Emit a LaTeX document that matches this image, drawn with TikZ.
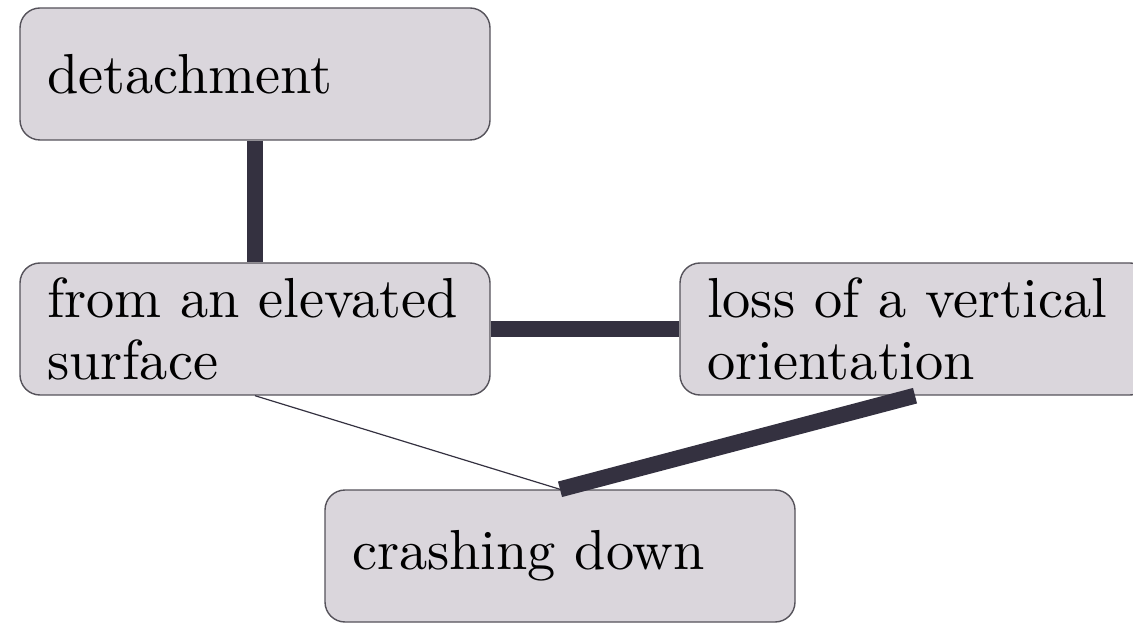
\documentclass[tikz,border=0pt]{standalone}
\usepackage{fontspec}
\setmainfont{lmroman10-regular}[Extension=.otf]
\definecolor{boxfill}{RGB}{218,214,220}
\definecolor{boxline}{RGB}{85,82,90}
\definecolor{conn}{RGB}{52,49,64}
\tikzset{
  box/.style={draw=boxline, line width=0.7pt, fill=boxfill, rounded corners=10pt,
    minimum width=235pt, minimum height=66pt, inner xsep=13.5pt, inner ysep=0pt,
    text width=208pt, align=left, font=\fontsize{28.2}{31}\selectfont},
  thick conn/.style={draw=conn, line width=8pt},
  thin conn/.style={draw=conn, line width=0.6pt}
}
\begin{document}
\begin{tikzpicture}[x=0.5pt,y=-0.5pt]
\useasboundingbox (0,0) rectangle (1133,624);
\clip (0,0) rectangle (1133,624);
\node[box] (det) at (255,74) {detachment};
\node[box] (from) at (255,329) {from an elevated\\surface};
\node[box] (loss) at (915,329) {loss of a vertical\\orientation};
\node[box] (crash) at (560,556) {crashing down};
\draw[thick conn] (det.south) -- (from.north);
\draw[thick conn] (from.east) -- (loss.west);
\draw[thin conn] (from.south) -- (crash.north);
\draw[thick conn] (loss.south) -- (crash.north);
\end{tikzpicture}
\end{document}
